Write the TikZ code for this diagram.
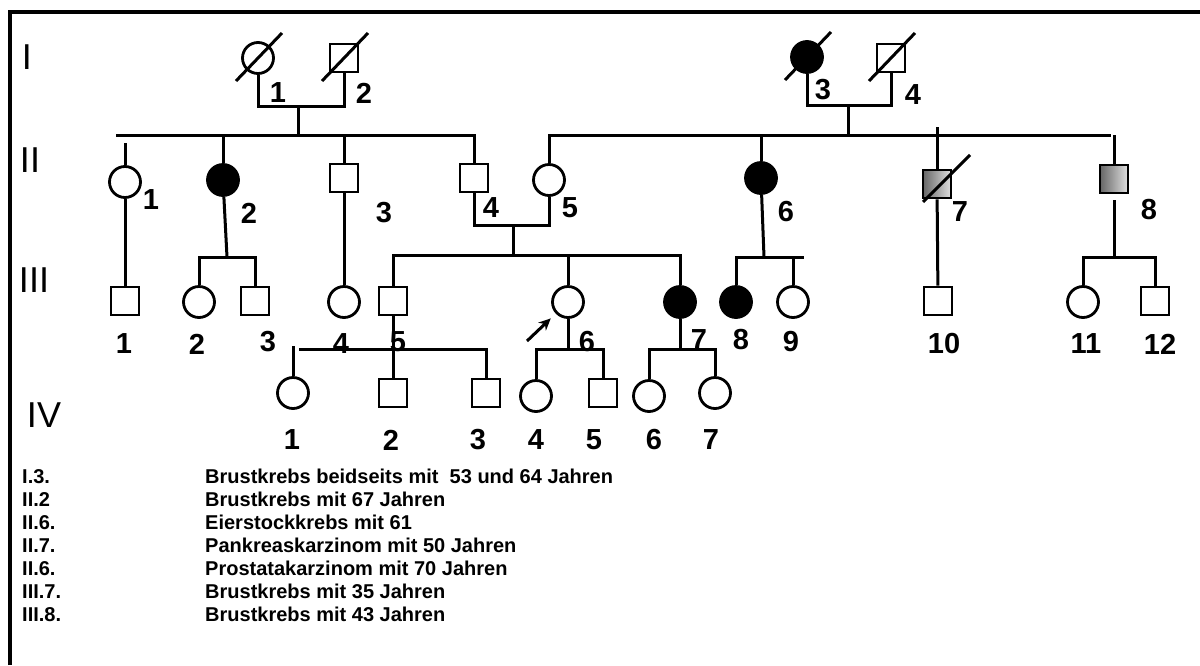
\documentclass[tikz,border=0pt]{standalone}
\usepackage{fontspec}
\setmainfont{Liberation Sans}
\usetikzlibrary{arrows.meta,calc}

\begin{document}
\begin{tikzpicture}[x=1pt,y=-1pt,
    pline/.style={line width=3pt},
    pmale/.style={draw,rectangle,minimum size=28pt,inner sep=0pt,line width=2.8pt,fill=white},
    pfemale/.style={draw,circle,minimum size=31pt,inner sep=0pt,line width=2.8pt,fill=white},
    affected/.style={fill=black},
    shaded/.style={left color=black!60,right color=black!12},
    num/.style={inner sep=0pt,font=\fontsize{29}{31}\selectfont\bfseries},
    genlab/.style={inner sep=0pt,font=\fontsize{36}{38}\selectfont},
    legend/.style={anchor=base west,inner sep=0pt,font=\fontsize{20}{22}\selectfont\bfseries}]
  \useasboundingbox (0,0) rectangle (1200,665);
  \draw[line width=3.5pt] (10,665) -- (10,12) -- (1200,12);

  % generations
  \foreach \g/\x/\y in {I/27/57,II/30/160,III/34/280,IV/44/415}
    \node[genlab] (gen\g) at (\x,\y) {\g};

  % persons
  \foreach \n/\x/\y in {i2/344/58,i4/891/58,ii3/344/178,ii4/474/178,iii1/125/301,iii3/255/301,
      iii5/393/301,iii10/938/301,iii12/1155/301,iv2/393/393,iv3/486/393,iv5/603/393}
    \node[pmale] (\n) at (\x,\y) {};
  \foreach \n/\x/\y in {i1/258/58,ii1/125/182,ii5/549/180,iii2/199/302,iii4/344/302,iii6/568/302,
      iii9/793/302,iii11/1083/302,iv1/293/393,iv4/536/396,iv6/649/396,iv7/715/393}
    \node[pfemale] (\n) at (\x,\y) {};
  \foreach \n/\x/\y in {i3/807/57,ii2/223/180,ii6/761/178,iii7/680/302,iii8/736/302}
    \node[pfemale,affected] (\n) at (\x,\y) {};
  \node[pmale,shaded] (ii7) at (937,184) {};
  \node[pmale,shaded] (ii8) at (1114,179) {};

  % deceased
  \foreach \n in {i1,i2,i3,i4}
    \draw[pline] ($(\n)+(-22,23)$) -- ($(\n)+(24,-25)$);
  \draw[pline] ($(ii7)+(-14,18)$) -- ($(ii7)+(33,-29)$);

  % generation I
  \coordinate (mI12) at (298,106);
  \coordinate (mI34) at (848,105);
  \coordinate (sII12) at (298,135);
  \coordinate (sII34) at (848,135);
  \draw[pline] (i1) |- (mI12) -| (i2);
  \draw[pline] (i3) |- (mI34) -| (i4);
  \draw[pline] (mI12) -- (sII12);
  \draw[pline] (mI34) -- (sII34);

  % generation II
  \coordinate (barIIa) at (116,135);
  \coordinate (barIIb) at (1111,135);
  \coordinate (ii1top) at (125,143);
  \coordinate (ii7top) at (937,127);
  \coordinate (ii8bot) at (1114,200);
  \draw[pline] (barIIa) -| (ii4);
  \draw[pline] (ii5) |- (barIIb);
  \draw[pline] (ii2 |- barIIa) -- (ii2);
  \draw[pline] (ii3 |- barIIa) -- (ii3);
  \draw[pline] (ii6 |- barIIb) -- (ii6);
  \draw[pline] (ii8 |- barIIb) -- (ii8);
  \draw[pline] (ii1top) -- (ii1);
  \draw[pline] (ii7top) -- (ii7);
  \coordinate (mII45) at (513,225);
  \coordinate (sIII45) at (513,255);
  \draw[pline] (ii4) |- (mII45) -| (ii5);
  \draw[pline] (mII45) -- (sIII45);

  % generation III
  \coordinate (sIII2) at (227,257);
  \coordinate (sIII6) at (764,257);
  \coordinate (barIIIe) at (804,257);
  \coordinate (sIII8) at (1114,257);
  \draw[pline] (ii1) -- (iii1);
  \draw[pline] (ii2) -- (sIII2);
  \draw[pline] (iii2) |- (sIII2) -| (iii3);
  \draw[pline] (ii3) -- (iii4);
  \draw[pline] (iii5) |- (sIII45) -| (iii7);
  \draw[pline] (iii6 |- sIII45) -- (iii6);
  \draw[pline] (ii6) -- (sIII6);
  \draw[pline] (iii8) |- (barIIIe);
  \draw[pline] (iii9 |- barIIIe) -- (iii9);
  \draw[pline] (ii7) -- (iii10);
  \draw[pline] (ii8bot) -- (sIII8);
  \draw[pline] (iii11) |- (sIII8) -| (iii12);

  % generation IV
  \coordinate (barIVa) at (299,349);
  \coordinate (iv1top) at (293,346);
  \coordinate (sIV6) at (568,349);
  \coordinate (sIV7) at (680,349);
  \draw[pline] (iii5) -- (iv2);
  \draw[pline] (barIVa) -| (iv3);
  \draw[pline] (iv1top) -- (iv1);
  \draw[pline] (iii6) -- (sIV6);
  \draw[pline] (iv4) |- (sIV6) -| (iv5);
  \draw[pline] (iii7) -- (sIV7);
  \draw[pline] (iv6) |- (sIV7) -| (iv7);

  % index person
  \coordinate (arr) at (527,341);
  \draw[line width=3pt,-{Stealth[length=12pt,width=11pt]}] (arr) -- ($(arr)!0.58!(iii6)$);

  % numbers
  \foreach \n/\x/\y/\t in {ti1/278/93/1,ti2/364/93/2,ti3/823/90/3,ti4/913/95/4,
      tii1/151/200/1,tii2/249/213/2,tii3/384/213/3,tii4/491/208/4,tii5/570/208/5,
      tii6/786/212/6,tii7/960/212/7,tii8/1149/210/8,
      tiii1/124/344/1,tiii2/197/344/2,tiii3/268/342/3,tiii4/341/344/4,tiii5/398/342/5,
      tiii6/587/342/6,tiii7/699/340/7,tiii8/741/340/8,tiii9/791/342/9,
      tiii10/944/344/10,tiii11/1086/344/11,tiii12/1160/344/12,
      tiv1/292/440/1,tiv2/391/440/2,tiv3/478/440/3,tiv4/536/440/4,tiv5/594/440/5,
      tiv6/654/440/6,tiv7/711/440/7}
    \node[num] (\n) at (\x,\y) {\t};

  % legend
  \foreach \k/\id/\txt in {0/I.3./Brustkrebs beidseits mit \ 53 und 64 Jahren,
      1/II.2/Brustkrebs mit 67 Jahren,2/II.6./Eierstockkrebs mit 61,
      3/II.7./Pankreaskarzinom mit 50 Jahren,4/II.6./Prostatakarzinom mit 70 Jahren,
      5/III.7./Brustkrebs mit 35 Jahren,6/III.8./Brustkrebs mit 43 Jahren}{
    \node[legend] (lid\k) at (22,{483+23*\k}) {\id};
    \node[legend] (ltx\k) at (205,{483+23*\k}) {\txt};
  }
\end{tikzpicture}
\end{document}
